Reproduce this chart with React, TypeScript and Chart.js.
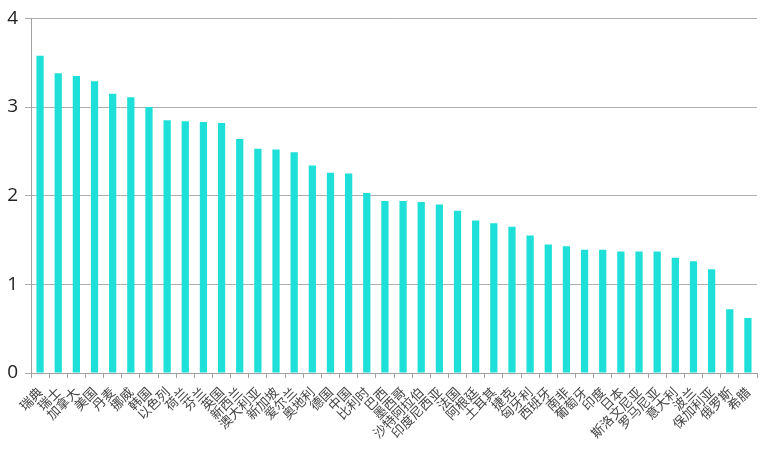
import React, { useEffect, useRef } from "react";
import { Chart, registerables } from "chart.js";

Chart.register(...registerables);

const categories = ["瑞典","瑞士","加拿大","美国","丹麦","挪威","韩国","以色列","荷兰","芬兰","英国","新西兰","澳大利亚","新加坡","爱尔兰","奥地利","德国","中国","比利时","巴西","墨西哥","沙特阿拉伯","印度尼西亚","法国","阿根廷","土耳其","捷克","匈牙利","西班牙","南非","葡萄牙","印度","日本","斯洛文尼亚","罗马尼亚","意大利","波兰","保加利亚","俄罗斯","希腊"];
const values = [3.58,3.38,3.35,3.29,3.15,3.11,3.0,2.85,2.84,2.83,2.82,2.64,2.53,2.52,2.49,2.34,2.26,2.25,2.03,1.94,1.94,1.93,1.90,1.83,1.72,1.69,1.65,1.55,1.45,1.43,1.39,1.39,1.37,1.37,1.37,1.30,1.26,1.17,0.72,0.62];
const yTicks = [0, 1, 2, 3, 4];

export default function App() {
  const ref = useRef<HTMLCanvasElement>(null);
  useEffect(() => {
    if (!ref.current) return;
    const chart = new Chart(ref.current, {
      type: "bar",
      data: {
        labels: categories,
        datasets: [{ data: values, backgroundColor: "rgb(30,224,216)", borderWidth: 0, barPercentage: 0.4, categoryPercentage: 1 }],
      },
      options: {
        animation: false,
        responsive: false,
        plugins: { legend: { display: false }, tooltip: { enabled: false } },
        layout: { padding: { left: 0, right: 3, top: 8, bottom: 0 } },
        scales: {
          x: {
            grid: { display: true, drawOnChartArea: false, tickLength: 5, color: "rgb(160,160,160)", offset: true },
            border: { display: true, color: "rgb(160,160,160)" },
            ticks: { minRotation: 45, maxRotation: 45, autoSkip: false, color: "#444", font: { family: "Noto Sans CJK SC", size: 13 }, padding: 6 },
            afterFit: (s: any) => { s.height = 79; s.paddingRight = 0; s.paddingLeft = 0; },
          },
          y: {
            min: 0, max: 4,
            afterBuildTicks: (s: any) => { s.ticks = yTicks.map((v) => ({ value: v })); },
            grid: { color: "rgb(175,175,175)", tickLength: 6 },
            border: { display: true, color: "rgb(160,160,160)" },
            ticks: { color: "#222", font: { family: "Open Sans", size: 19 }, padding: 7 },
            afterFit: (s: any) => { s.width = 31; },
          },
        },
      },
    });
    return () => chart.destroy();
  }, []);
  return (
    <div style={{ position: "fixed", left: 0, top: 0, width: 760, height: 452, background: "#fff" }}>
      <canvas ref={ref} width={760} height={452} />
    </div>
  );
}
